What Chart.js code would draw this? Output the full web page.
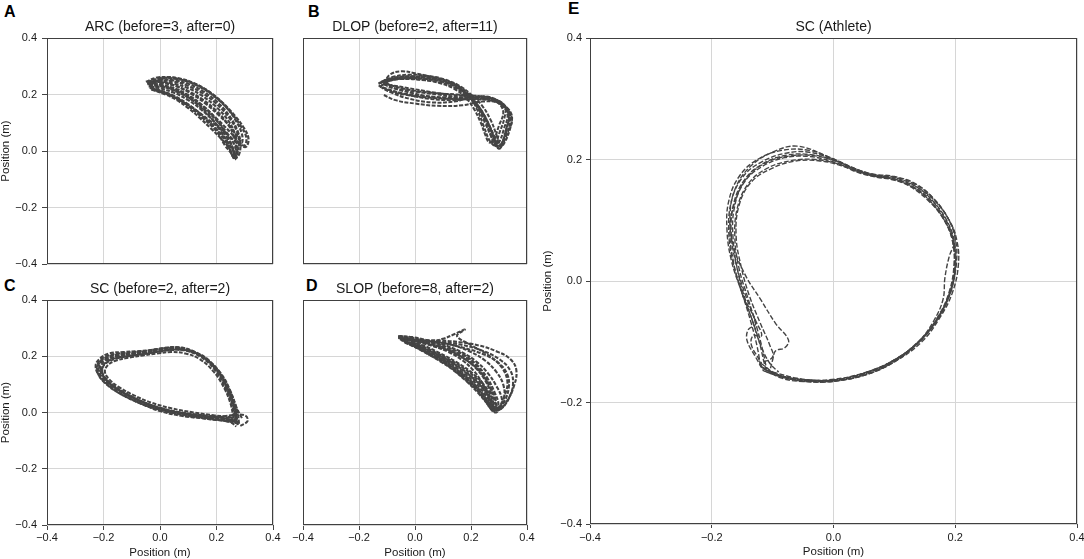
<!DOCTYPE html>
<html><head><meta charset="utf-8">
<script src="https://cdn.jsdelivr.net/npm/chart.js@4.4.0/dist/chart.umd.min.js"></script>
<style>
html,body{margin:0;padding:0;background:#fff;width:1084px;height:559px;overflow:hidden;position:relative;}
canvas.panel{position:absolute;display:block;}
.letter{position:absolute;font:bold 16px 'Liberation Sans',Arial,sans-serif;line-height:16px;color:#000;}
</style></head><body>
<div class="letter" style="left:4px;top:4px">A</div>
<div class="letter" style="left:308px;top:4px">B</div>
<div class="letter" style="left:4px;top:278px">C</div>
<div class="letter" style="left:306px;top:278px">D</div>
<div class="letter" style="left:568px;top:1px;font-size:17px">E</div>
<canvas id="cA" class="panel" width="285" height="270" style="left:0px;top:0px;width:285px;height:270px"></canvas>
<canvas id="cB" class="panel" width="250" height="270" style="left:290px;top:0px;width:250px;height:270px"></canvas>
<canvas id="cC" class="panel" width="285" height="289" style="left:0px;top:270px;width:285px;height:289px"></canvas>
<canvas id="cD" class="panel" width="250" height="289" style="left:290px;top:270px;width:250px;height:289px"></canvas>
<canvas id="cE" class="panel" width="544" height="559" style="left:540px;top:0px;width:544px;height:559px"></canvas>
<script>
// ---------- DATA ----------
const tickValues = [-0.4, -0.2, 0, 0.2, 0.4];
const tickLabels = ['\u22120.4', '\u22120.2', '0.0', '0.2', '0.4'];
const axisTitle = 'Position (m)';
const titleA = 'ARC (before=3, after=0)';
const titleB = 'DLOP (before=2, after=11)';
const titleC = 'SC (before=2, after=2)';
const titleD = 'SLOP (before=8, after=2)';
const titleE = 'SC (Athlete)';

const arcTrials = [
 [[-0.045,0.243],[0.0,0.258],[0.05,0.256],[0.1,0.245],[0.15,0.222],[0.2,0.187],[0.25,0.137],[0.285,0.09],[0.305,0.05],[0.3,0.02],[0.28,0.03],[0.25,0.065],[0.2,0.115],[0.15,0.16],[0.1,0.195],[0.05,0.22],[0.0,0.235],[-0.04,0.238]],
 [[-0.04,0.24],[0.0,0.252],[0.05,0.25],[0.1,0.238],[0.15,0.213],[0.2,0.176],[0.245,0.125],[0.275,0.07],[0.285,0.02],[0.275,-0.02],[0.26,0.0],[0.24,0.03],[0.2,0.078],[0.15,0.125],[0.1,0.165],[0.05,0.195],[0.0,0.215],[-0.035,0.225]],
 [[-0.03,0.238],[0.02,0.26],[0.07,0.256],[0.12,0.24],[0.17,0.212],[0.22,0.172],[0.265,0.125],[0.298,0.08],[0.313,0.045],[0.305,0.015],[0.285,0.02],[0.26,0.04],[0.22,0.075],[0.17,0.112],[0.12,0.15],[0.07,0.18],[0.02,0.205],[-0.03,0.222]],
 [[-0.045,0.237],[0.0,0.245],[0.05,0.238],[0.1,0.222],[0.15,0.195],[0.2,0.155],[0.24,0.11],[0.265,0.06],[0.275,0.01],[0.27,-0.025],[0.258,0.01],[0.235,0.05],[0.2,0.095],[0.15,0.143],[0.1,0.18],[0.05,0.206],[0.0,0.222],[-0.04,0.23]],
 [[-0.04,0.232],[0.0,0.24],[0.05,0.232],[0.1,0.212],[0.15,0.183],[0.2,0.142],[0.24,0.095],[0.262,0.05],[0.27,0.0],[0.265,-0.03],[0.25,0.0],[0.225,0.045],[0.185,0.09],[0.14,0.13],[0.09,0.168],[0.04,0.198],[0.0,0.213],[-0.04,0.225]],
 [[-0.05,0.245],[-0.01,0.26],[0.04,0.26],[0.09,0.25],[0.14,0.23],[0.19,0.198],[0.235,0.155],[0.27,0.105],[0.29,0.06],[0.29,0.03],[0.275,0.05],[0.25,0.085],[0.21,0.125],[0.165,0.165],[0.115,0.2],[0.06,0.228],[0.01,0.243],[-0.04,0.247]],
 [[-0.04,0.228],[0.0,0.232],[0.05,0.222],[0.1,0.198],[0.15,0.162],[0.19,0.122],[0.225,0.075],[0.25,0.03],[0.262,-0.01],[0.258,-0.02],[0.245,0.01],[0.22,0.04],[0.18,0.08],[0.14,0.118],[0.1,0.152],[0.06,0.18],[0.02,0.2],[-0.03,0.218]],
 [[-0.045,0.24],[0.0,0.25],[0.05,0.246],[0.1,0.23],[0.15,0.205],[0.2,0.167],[0.245,0.118],[0.272,0.07],[0.28,0.03],[0.272,0.0],[0.262,0.025],[0.24,0.06],[0.205,0.103],[0.16,0.145],[0.11,0.183],[0.06,0.21],[0.01,0.228],[-0.04,0.236]],
 [[-0.035,0.222],[0.0,0.228],[0.05,0.215],[0.1,0.19],[0.14,0.158],[0.18,0.118],[0.215,0.07],[0.24,0.03],[0.26,0.0],[0.265,-0.03],[0.25,-0.005],[0.23,0.02],[0.2,0.07],[0.15,0.118],[0.1,0.16],[0.07,0.18],[0.03,0.2],[-0.03,0.218]]
];

const dlopTrials = [
 [[-0.13,0.238],[-0.09,0.255],[-0.03,0.262],[0.04,0.258],[0.1,0.248],[0.15,0.228],[0.19,0.195],[0.23,0.15],[0.26,0.1],[0.285,0.05],[0.3,0.02],[0.315,0.035],[0.33,0.09],[0.335,0.13],[0.31,0.165],[0.26,0.185],[0.2,0.185],[0.13,0.18],[0.05,0.185],[-0.03,0.2],[-0.09,0.215],[-0.125,0.228]],
 [[-0.12,0.245],[-0.08,0.262],[-0.02,0.27],[0.05,0.265],[0.11,0.252],[0.16,0.23],[0.2,0.2],[0.24,0.16],[0.27,0.11],[0.29,0.06],[0.305,0.015],[0.32,0.03],[0.34,0.08],[0.345,0.12],[0.32,0.16],[0.27,0.19],[0.21,0.19],[0.14,0.175],[0.06,0.172],[-0.02,0.185],[-0.08,0.205],[-0.115,0.225]],
 [[-0.11,0.24],[-0.09,0.27],[-0.05,0.282],[0.0,0.275],[0.06,0.262],[0.12,0.245],[0.17,0.215],[0.21,0.18],[0.245,0.13],[0.27,0.08],[0.285,0.035],[0.3,0.01],[0.325,0.05],[0.34,0.11],[0.33,0.15],[0.29,0.18],[0.23,0.19],[0.16,0.19],[0.08,0.2],[0.0,0.21],[-0.06,0.22],[-0.1,0.228]],
 [[-0.125,0.225],[-0.1,0.245],[-0.05,0.255],[0.02,0.252],[0.09,0.242],[0.14,0.225],[0.18,0.2],[0.22,0.16],[0.25,0.11],[0.27,0.06],[0.29,0.015],[0.305,0.01],[0.325,0.06],[0.345,0.1],[0.34,0.14],[0.3,0.17],[0.24,0.175],[0.17,0.162],[0.08,0.16],[0.0,0.168],[-0.07,0.18],[-0.115,0.2]],
 [[-0.13,0.24],[-0.1,0.25],[-0.04,0.255],[0.03,0.252],[0.09,0.24],[0.14,0.22],[0.18,0.19],[0.21,0.15],[0.235,0.1],[0.25,0.06],[0.265,0.03],[0.28,0.04],[0.3,0.09],[0.315,0.14],[0.29,0.175],[0.24,0.19],[0.18,0.19],[0.11,0.19],[0.03,0.195],[-0.05,0.205],[-0.1,0.22],[-0.13,0.232]],
 [[-0.11,0.25],[-0.06,0.262],[0.0,0.265],[0.07,0.26],[0.13,0.24],[0.17,0.215],[0.2,0.185],[0.225,0.14],[0.245,0.09],[0.265,0.04],[0.285,0.02],[0.3,0.06],[0.32,0.12],[0.32,0.16],[0.28,0.185],[0.22,0.195],[0.15,0.2],[0.07,0.205],[-0.01,0.215],[-0.07,0.228],[-0.105,0.24]],
 [[-0.12,0.232],[-0.085,0.25],[-0.03,0.258],[0.04,0.255],[0.1,0.245],[0.155,0.222],[0.195,0.19],[0.235,0.145],[0.262,0.095],[0.28,0.05],[0.292,0.02],[0.308,0.025],[0.325,0.075],[0.335,0.125],[0.315,0.16],[0.265,0.18],[0.2,0.182],[0.12,0.185],[0.04,0.19],[-0.04,0.2],[-0.095,0.212],[-0.12,0.225]],
 [[-0.125,0.24],[-0.09,0.252],[-0.03,0.258],[0.04,0.255],[0.1,0.245],[0.15,0.225],[0.19,0.195],[0.225,0.15],[0.25,0.1],[0.27,0.055],[0.285,0.02],[0.3,0.03],[0.318,0.08],[0.33,0.13],[0.3,0.17],[0.25,0.19],[0.19,0.195],[0.12,0.2],[0.05,0.21],[-0.02,0.222],[-0.08,0.232],[-0.12,0.238]],
 [[-0.115,0.245],[-0.07,0.258],[-0.01,0.262],[0.06,0.258],[0.12,0.245],[0.17,0.22],[0.205,0.185],[0.24,0.14],[0.265,0.09],[0.285,0.04],[0.298,0.012],[0.312,0.03],[0.328,0.085],[0.34,0.125],[0.322,0.158],[0.275,0.18],[0.215,0.185],[0.145,0.185],[0.07,0.19],[-0.01,0.205],[-0.07,0.22],[-0.11,0.235]]
];

const scTrials = [
 [[0.27,-0.03],[0.262,0.02],[0.24,0.08],[0.205,0.145],[0.155,0.195],[0.1,0.22],[0.05,0.226],[0.0,0.22],[-0.05,0.212],[-0.1,0.205],[-0.15,0.198],[-0.19,0.185],[-0.21,0.162],[-0.2,0.132],[-0.17,0.1],[-0.12,0.068],[-0.06,0.038],[0.0,0.015],[0.08,-0.003],[0.15,-0.013],[0.22,-0.02],[0.27,-0.03]],
 [[0.275,-0.045],[0.268,0.01],[0.248,0.07],[0.215,0.135],[0.165,0.19],[0.11,0.218],[0.06,0.228],[0.01,0.224],[-0.04,0.215],[-0.09,0.21],[-0.14,0.206],[-0.185,0.198],[-0.215,0.178],[-0.215,0.145],[-0.19,0.11],[-0.14,0.075],[-0.08,0.045],[-0.02,0.022],[0.06,0.003],[0.14,-0.008],[0.21,-0.015],[0.26,-0.02]],
 [[0.28,-0.04],[0.275,0.0],[0.255,0.06],[0.22,0.13],[0.17,0.188],[0.12,0.217],[0.07,0.232],[0.02,0.23],[-0.03,0.222],[-0.08,0.218],[-0.13,0.215],[-0.18,0.21],[-0.215,0.19],[-0.228,0.165],[-0.215,0.13],[-0.18,0.095],[-0.13,0.062],[-0.07,0.033],[0.0,0.008],[0.08,-0.01],[0.16,-0.022],[0.23,-0.03],[0.28,-0.04]],
 [[0.265,-0.035],[0.255,0.025],[0.232,0.085],[0.195,0.15],[0.145,0.197],[0.09,0.22],[0.04,0.222],[-0.01,0.215],[-0.06,0.208],[-0.11,0.2],[-0.16,0.19],[-0.195,0.172],[-0.205,0.145],[-0.19,0.115],[-0.155,0.085],[-0.1,0.055],[-0.04,0.03],[0.03,0.008],[0.11,-0.008],[0.19,-0.018],[0.25,-0.01],[0.3,-0.01],[0.31,-0.03],[0.28,-0.05]],
 [[0.27,-0.025],[0.26,0.03],[0.237,0.09],[0.2,0.155],[0.15,0.2],[0.095,0.223],[0.045,0.23],[-0.005,0.226],[-0.055,0.218],[-0.105,0.212],[-0.155,0.205],[-0.2,0.19],[-0.222,0.16],[-0.208,0.125],[-0.175,0.09],[-0.125,0.058],[-0.065,0.03],[0.0,0.005],[0.075,-0.012],[0.15,-0.02],[0.22,-0.028],[0.27,-0.025]],
 [[0.26,-0.02],[0.25,0.03],[0.228,0.085],[0.19,0.145],[0.14,0.19],[0.09,0.21],[0.04,0.215],[-0.01,0.21],[-0.06,0.203],[-0.11,0.195],[-0.155,0.185],[-0.185,0.168],[-0.195,0.145],[-0.18,0.118],[-0.145,0.09],[-0.09,0.06],[-0.03,0.035],[0.04,0.015],[0.12,0.0],[0.19,-0.01],[0.24,-0.015],[0.26,-0.02]],
 [[0.29,-0.02],[0.27,0.02],[0.25,0.075],[0.215,0.14],[0.16,0.192],[0.105,0.222],[0.055,0.232],[0.005,0.228],[-0.045,0.22],[-0.095,0.215],[-0.145,0.21],[-0.19,0.2],[-0.22,0.175],[-0.22,0.14],[-0.195,0.105],[-0.15,0.072],[-0.09,0.042],[-0.03,0.018],[0.05,-0.002],[0.13,-0.015],[0.2,-0.025],[0.25,-0.035],[0.27,-0.05]],
 [[0.272,-0.035],[0.265,0.015],[0.244,0.075],[0.21,0.14],[0.16,0.192],[0.105,0.218],[0.055,0.224],[0.005,0.218],[-0.045,0.21],[-0.095,0.203],[-0.145,0.196],[-0.185,0.182],[-0.205,0.158],[-0.198,0.128],[-0.168,0.098],[-0.118,0.066],[-0.058,0.036],[0.0,0.013],[0.075,-0.005],[0.145,-0.016],[0.215,-0.024],[0.272,-0.035]],
 [[0.268,-0.028],[0.258,0.028],[0.235,0.088],[0.2,0.15],[0.15,0.198],[0.098,0.222],[0.048,0.228],[-0.002,0.222],[-0.052,0.215],[-0.102,0.208],[-0.152,0.2],[-0.195,0.188],[-0.215,0.165],[-0.205,0.135],[-0.178,0.103],[-0.13,0.07],[-0.07,0.04],[-0.01,0.017],[0.065,0.0],[0.14,-0.01],[0.21,-0.018],[0.268,-0.028]]
];

const slopTrials = [
 [[-0.06,0.27],[-0.01,0.26],[0.05,0.245],[0.1,0.232],[0.15,0.212],[0.2,0.182],[0.24,0.14],[0.27,0.09],[0.288,0.045],[0.29,0.01],[0.278,0.015],[0.26,0.04],[0.235,0.075],[0.2,0.112],[0.15,0.152],[0.1,0.188],[0.05,0.212],[0.0,0.238],[-0.05,0.262]],
 [[-0.055,0.272],[0.0,0.263],[0.06,0.248],[0.12,0.23],[0.18,0.202],[0.225,0.165],[0.26,0.12],[0.285,0.07],[0.298,0.03],[0.29,0.005],[0.275,0.01],[0.255,0.035],[0.225,0.07],[0.185,0.11],[0.14,0.148],[0.09,0.182],[0.04,0.212],[-0.01,0.24],[-0.05,0.26]],
 [[-0.04,0.265],[0.02,0.258],[0.09,0.256],[0.16,0.25],[0.23,0.238],[0.29,0.218],[0.34,0.19],[0.362,0.15],[0.352,0.09],[0.325,0.035],[0.3,0.01],[0.28,0.02],[0.26,0.06],[0.23,0.1],[0.18,0.145],[0.12,0.185],[0.05,0.22],[-0.02,0.25]],
 [[-0.06,0.265],[0.0,0.255],[0.05,0.25],[0.1,0.262],[0.14,0.278],[0.178,0.295],[0.15,0.272],[0.2,0.24],[0.26,0.205],[0.31,0.16],[0.33,0.11],[0.32,0.06],[0.3,0.02],[0.28,0.015],[0.26,0.05],[0.22,0.1],[0.16,0.15],[0.1,0.19],[0.03,0.225],[-0.03,0.25]],
 [[-0.055,0.268],[0.0,0.258],[0.06,0.242],[0.12,0.222],[0.17,0.195],[0.215,0.16],[0.25,0.115],[0.27,0.07],[0.28,0.03],[0.282,0.008],[0.27,0.02],[0.25,0.045],[0.22,0.085],[0.175,0.128],[0.12,0.17],[0.06,0.205],[0.0,0.235],[-0.05,0.258]],
 [[-0.03,0.26],[0.04,0.255],[0.11,0.245],[0.18,0.228],[0.25,0.205],[0.3,0.175],[0.33,0.135],[0.335,0.09],[0.32,0.04],[0.3,0.015],[0.285,0.025],[0.27,0.06],[0.245,0.1],[0.205,0.14],[0.15,0.178],[0.09,0.21],[0.03,0.238],[-0.03,0.258]],
 [[-0.06,0.272],[-0.01,0.268],[0.05,0.255],[0.11,0.238],[0.17,0.213],[0.22,0.18],[0.26,0.14],[0.29,0.095],[0.31,0.05],[0.305,0.02],[0.29,0.0],[0.272,0.012],[0.26,0.035],[0.235,0.07],[0.195,0.11],[0.14,0.155],[0.08,0.195],[0.02,0.225],[-0.04,0.25]],
 [[-0.05,0.26],[0.01,0.25],[0.07,0.235],[0.13,0.215],[0.185,0.185],[0.23,0.148],[0.262,0.1],[0.28,0.055],[0.288,0.02],[0.28,0.005],[0.268,0.025],[0.245,0.06],[0.21,0.1],[0.16,0.142],[0.1,0.182],[0.04,0.215],[-0.02,0.242],[-0.055,0.262]],
 [[-0.05,0.265],[0.0,0.255],[0.06,0.238],[0.12,0.215],[0.17,0.185],[0.21,0.148],[0.24,0.105],[0.262,0.06],[0.275,0.02],[0.278,0.005],[0.265,0.02],[0.245,0.05],[0.215,0.085],[0.17,0.125],[0.12,0.165],[0.07,0.195],[0.02,0.222],[-0.04,0.255]],
 [[-0.06,0.268],[0.0,0.258],[0.07,0.25],[0.14,0.238],[0.2,0.215],[0.25,0.185],[0.29,0.145],[0.315,0.1],[0.318,0.05],[0.3,0.015],[0.285,0.01],[0.275,0.04],[0.255,0.08],[0.22,0.12],[0.17,0.16],[0.11,0.195],[0.05,0.225],[-0.01,0.25]],
 [[-0.04,0.262],[0.03,0.256],[0.1,0.25],[0.17,0.24],[0.24,0.22],[0.3,0.19],[0.34,0.15],[0.35,0.1],[0.335,0.05],[0.31,0.015],[0.29,0.008],[0.275,0.03],[0.255,0.07],[0.22,0.11],[0.17,0.15],[0.11,0.19],[0.05,0.22],[-0.01,0.248]]
];

const athleteTrials = [
 [[-0.115,-0.145],[-0.08,-0.158],[-0.04,-0.163],[0.0,-0.163],[0.05,-0.152],[0.1,-0.13],[0.14,-0.1],[0.17,-0.065],[0.19,-0.025],[0.2,0.02],[0.198,0.06],[0.185,0.095],[0.16,0.13],[0.13,0.155],[0.1,0.168],[0.07,0.172],[0.04,0.18],[0.01,0.192],[-0.03,0.2],[-0.07,0.198],[-0.11,0.185],[-0.14,0.16],[-0.158,0.12],[-0.162,0.07],[-0.155,0.02],[-0.14,-0.03],[-0.125,-0.08],[-0.115,-0.12],[-0.11,-0.145]],
 [[-0.12,-0.14],[-0.085,-0.16],[-0.04,-0.166],[0.0,-0.165],[0.05,-0.155],[0.1,-0.133],[0.145,-0.1],[0.175,-0.06],[0.195,-0.02],[0.205,0.025],[0.203,0.065],[0.19,0.1],[0.165,0.135],[0.135,0.16],[0.1,0.172],[0.065,0.176],[0.035,0.185],[0.0,0.2],[-0.04,0.212],[-0.08,0.21],[-0.12,0.195],[-0.15,0.17],[-0.168,0.13],[-0.172,0.08],[-0.165,0.03],[-0.15,-0.02],[-0.135,-0.07],[-0.125,-0.11],[-0.12,-0.14]],
 [[-0.1,-0.15],[-0.06,-0.16],[-0.02,-0.164],[0.02,-0.162],[0.07,-0.148],[0.115,-0.122],[0.15,-0.09],[0.178,-0.05],[0.195,-0.01],[0.2,0.035],[0.195,0.075],[0.18,0.108],[0.155,0.138],[0.125,0.158],[0.09,0.17],[0.06,0.175],[0.03,0.187],[-0.01,0.205],[-0.06,0.222],[-0.1,0.212],[-0.135,0.19],[-0.16,0.155],[-0.17,0.11],[-0.165,0.06],[-0.145,0.01],[-0.12,-0.03],[-0.095,-0.07],[-0.074,-0.097],[-0.08,-0.11],[-0.095,-0.115],[-0.1,-0.13],[-0.105,-0.15]],
 [[-0.115,-0.148],[-0.075,-0.16],[-0.035,-0.164],[0.005,-0.163],[0.055,-0.15],[0.105,-0.127],[0.145,-0.095],[0.172,-0.058],[0.19,-0.018],[0.198,0.028],[0.195,0.068],[0.18,0.103],[0.155,0.133],[0.125,0.156],[0.095,0.168],[0.065,0.173],[0.035,0.182],[0.0,0.196],[-0.04,0.205],[-0.08,0.203],[-0.118,0.188],[-0.147,0.162],[-0.163,0.12],[-0.165,0.07],[-0.158,0.02],[-0.145,-0.03],[-0.128,-0.07],[-0.14,-0.08],[-0.142,-0.098],[-0.128,-0.125],[-0.115,-0.148]],
 [[-0.11,-0.15],[-0.07,-0.162],[-0.03,-0.166],[0.01,-0.164],[0.06,-0.152],[0.105,-0.13],[0.14,-0.1],[0.165,-0.065],[0.18,-0.03],[0.183,0.005],[0.19,0.04],[0.2,0.07],[0.19,0.1],[0.168,0.13],[0.14,0.153],[0.108,0.166],[0.075,0.172],[0.045,0.18],[0.01,0.195],[-0.03,0.206],[-0.07,0.206],[-0.11,0.195],[-0.142,0.17],[-0.162,0.13],[-0.17,0.085],[-0.165,0.035],[-0.152,-0.015],[-0.135,-0.06],[-0.122,-0.1],[-0.115,-0.13],[-0.11,-0.15]],
 [[-0.105,-0.152],[-0.065,-0.162],[-0.025,-0.165],[0.015,-0.162],[0.065,-0.148],[0.11,-0.125],[0.148,-0.093],[0.175,-0.055],[0.193,-0.013],[0.202,0.03],[0.2,0.07],[0.187,0.105],[0.162,0.138],[0.132,0.16],[0.1,0.171],[0.068,0.175],[0.038,0.184],[0.002,0.2],[-0.04,0.215],[-0.085,0.215],[-0.125,0.2],[-0.155,0.172],[-0.172,0.132],[-0.175,0.085],[-0.168,0.035],[-0.152,-0.015],[-0.135,-0.06],[-0.12,-0.105],[-0.105,-0.135],[-0.09,-0.15]],
 [[-0.12,-0.135],[-0.09,-0.155],[-0.05,-0.163],[-0.01,-0.164],[0.04,-0.155],[0.09,-0.136],[0.135,-0.105],[0.168,-0.068],[0.188,-0.028],[0.198,0.015],[0.197,0.058],[0.185,0.095],[0.162,0.128],[0.133,0.153],[0.1,0.166],[0.07,0.171],[0.042,0.178],[0.012,0.19],[-0.025,0.198],[-0.065,0.197],[-0.102,0.185],[-0.135,0.163],[-0.155,0.125],[-0.16,0.075],[-0.152,0.025],[-0.138,-0.025],[-0.12,-0.07],[-0.105,-0.105],[-0.1,-0.125],[-0.12,-0.135]],
 [[-0.118,-0.142],[-0.082,-0.157],[-0.042,-0.163],[-0.002,-0.162],[0.048,-0.152],[0.098,-0.131],[0.14,-0.099],[0.17,-0.062],[0.19,-0.022],[0.2,0.022],[0.199,0.062],[0.187,0.098],[0.163,0.132],[0.133,0.157],[0.1,0.17],[0.068,0.174],[0.037,0.183],[0.003,0.198],[-0.037,0.208],[-0.078,0.207],[-0.116,0.193],[-0.146,0.167],[-0.164,0.127],[-0.168,0.078],[-0.16,0.028],[-0.145,-0.022],[-0.128,-0.065],[-0.118,-0.09],[-0.132,-0.09],[-0.135,-0.105],[-0.122,-0.13],[-0.118,-0.142]]
];

// ---------- CHART SETUP ----------
Chart.defaults.animation = false;
Chart.defaults.font.family = "'Liberation Sans', Arial, sans-serif";
Chart.defaults.color = '#222';

const framePlugin = {
  id: 'frame',
  afterDatasetsDraw(chart) {
    const {ctx, chartArea: a} = chart;
    ctx.save();
    ctx.strokeStyle = '#404040';
    ctx.lineWidth = 1;
    ctx.setLineDash([]);
    ctx.strokeRect(Math.round(a.left) + 0.5, Math.round(a.top) + 0.5,
                   Math.round(a.right - a.left) - 1, Math.round(a.bottom - a.top) - 1);
    ctx.restore();
  }
};

function makeAxis(horizontal, o) {
  return {
    type: 'linear', min: -0.4, max: 0.4,
    afterBuildTicks: s => { s.ticks = tickValues.map(v => ({value: v})); },
    ticks: {display: o.labels, padding: o.tickPad, font: {size: 11}, color: '#1a1a1a',
            callback: (v, i) => tickLabels[i]},
    grid: {color: '#d6d6d6', lineWidth: 1, drawTicks: o.labels, tickLength: o.tickLen, tickColor: '#444'},
    border: {display: false},
    title: {display: o.title, text: axisTitle, color: '#1a1a1a',
            font: {size: 11.5, lineHeight: 1}, padding: o.titlePad},
    afterFit: s => {
      if (horizontal) s.height = o.size; else s.width = o.size;
      s.paddingLeft = 0; s.paddingRight = 0; s.paddingTop = 0; s.paddingBottom = 0;
    }
  };
}

function makePanel(id, trials, title, cfg) {
  const datasets = trials.map(tr => ({
    data: tr.map(p => ({x: p[0], y: p[1]})),
    showLine: true, borderColor: '#444444', borderWidth: cfg.lw,
    borderDash: cfg.dash, pointRadius: 0, pointHoverRadius: 0, tension: 0.4, fill: false
  }));
  new Chart(document.getElementById(id), {
    type: 'scatter',
    data: {datasets},
    options: {
      responsive: false, animation: false,
      layout: {padding: {left: 0, top: 0, right: cfg.padRight, bottom: 0}},
      plugins: {
        legend: {display: false}, tooltip: {enabled: false},
        title: {display: true, text: title, fullSize: false, color: '#1a1a1a',
                font: {size: 14, weight: 'normal', lineHeight: 1},
                padding: {top: cfg.titleTop, bottom: 4}}
      },
      scales: {
        x: makeAxis(true, cfg.x),
        y: makeAxis(false, cfg.y)
      }
    },
    plugins: [framePlugin]
  });
}

const noAxis = (size) => ({labels: false, title: false, size: size, tickLen: 0, tickPad: 0, titlePad: 0});

makePanel('cA', arcTrials, titleA, {
  lw: 2.2, dash: [4, 1.5], padRight: 12, titleTop: 20,
  x: noAxis(6),
  y: {labels: true, title: true, size: 47, tickLen: 5, tickPad: 5, titlePad: {top: 0, bottom: 0}}
});
makePanel('cB', dlopTrials, titleB, {
  lw: 2.0, dash: [4, 1.5], padRight: 13, titleTop: 20,
  x: noAxis(6),
  y: noAxis(13)
});
makePanel('cC', scTrials, titleC, {
  lw: 2.0, dash: [4, 1.5], padRight: 12, titleTop: 12,
  x: {labels: true, title: true, size: 34, tickLen: 5, tickPad: 1, titlePad: {top: 0, bottom: 0}},
  y: {labels: true, title: true, size: 47, tickLen: 5, tickPad: 5, titlePad: {top: 0, bottom: 0}}
});
makePanel('cD', slopTrials, titleD, {
  lw: 2.1, dash: [4, 1.5], padRight: 13, titleTop: 12,
  x: {labels: true, title: true, size: 34, tickLen: 5, tickPad: 1, titlePad: {top: 0, bottom: 0}},
  y: noAxis(13)
});
makePanel('cE', athleteTrials, titleE, {
  lw: 1.4, dash: [5, 2], padRight: 7, titleTop: 20,
  x: {labels: true, title: true, size: 35, tickLen: 4, tickPad: 3, titlePad: {top: 0, bottom: 1}},
  y: {labels: true, title: true, size: 50, tickLen: 4, tickPad: 4, titlePad: {top: 2, bottom: 0}}
});
</script>
</body></html>
